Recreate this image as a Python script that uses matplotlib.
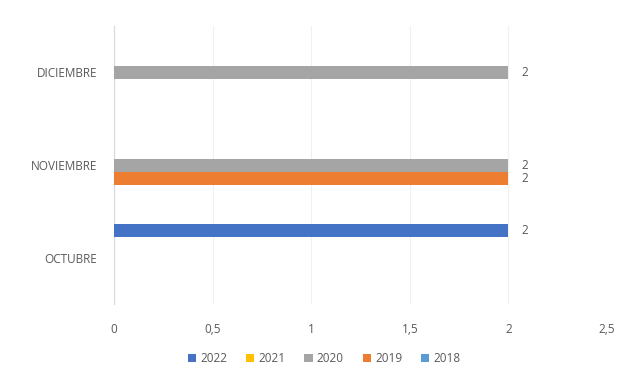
import numpy as np
import matplotlib.pyplot as plt

plt.rcParams["font.family"] = ["Open Sans", "DejaVu Sans"]

# months (bottom to top) and one list per year
months = ["OCTUBRE", "NOVIEMBRE", "DICIEMBRE"]
years = ["2022", "2021", "2020", "2019", "2018"]
v2022 = [2, 0, 0]
v2021 = [0, 0, 0]
v2020 = [0, 2, 2]
v2019 = [0, 2, 0]
v2018 = [0, 0, 0]

series = [v2022, v2021, v2020, v2019, v2018]
colors = ["#4472C4", "#FFC000", "#A5A5A5", "#ED7D31", "#5B9BD5"]
# slot offset inside each month group, first year on top
offsets = [2, 1, 0, -1, -2]

fig = plt.figure(figsize=(6.33, 3.79), dpi=100)
ax = fig.add_axes([0.180, 0.1966, 0.779, 0.736])

y = np.arange(len(months))
slot = 0.15
txt = "#595959"

for name, vals, col, off in zip(years, series, colors, offsets):
    ypos = y + off * slot
    bars = ax.barh(ypos, vals, height=0.14, color=col, label=name, zorder=3)
    for b, v in zip(bars, vals):
        if v:
            ax.text(v + 0.065, b.get_y() + b.get_height() / 2, f"{v}",
                    va="center", ha="left", fontsize=8.5, color=txt)

ax.set_xlim(0, 2.5)
ax.set_ylim(-0.5, 2.5)
ax.set_xticks([0, 0.5, 1, 1.5, 2, 2.5])
ax.set_xticklabels(["0", "0,5", "1", "1,5", "2", "2,5"])
ax.set_yticks(y)
ax.set_yticklabels(months)
ax.tick_params(length=0, labelsize=8.5, colors=txt)
ax.tick_params(axis="x", pad=13)
ax.tick_params(axis="y", pad=12)
ax.grid(axis="x", color="#f0f0f0", linewidth=0.8, zorder=0)

for s in ["top", "right", "bottom"]:
    ax.spines[s].set_visible(False)
ax.spines["left"].set_color("#d9d9d9")

fig.legend(loc="center", bbox_to_anchor=(0.512, 0.053), ncol=5, frameon=False,
           fontsize=8.5, labelcolor=txt, handlelength=0.7, handleheight=0.7,
           handletextpad=0.35, columnspacing=1.6)

fig.savefig("out.png", dpi=100)
